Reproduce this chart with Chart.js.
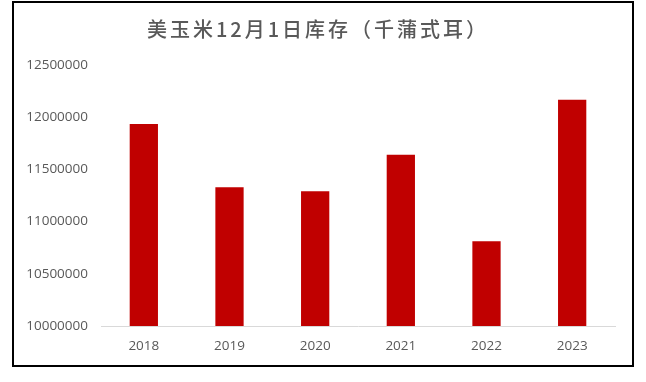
<!DOCTYPE html>
<html>
<head>
<meta charset="utf-8">
<script src="https://cdn.jsdelivr.net/npm/chart.js@4/dist/chart.umd.min.js"></script>
<style>
  html, body { margin: 0; padding: 0; background: #fff; }
  #wrap { position: relative; width: 646px; height: 382px; overflow: hidden; }
  #c { position: absolute; left: 0; top: 0; }
  #frame { position: absolute; left: 12px; top: 1px; width: 622px; height: 366px; box-sizing: border-box; border: 2px solid #000; pointer-events: none; }
  #title { position: absolute; left: 0; width: 636px; top: 15px; text-align: center; font-family: "Noto Sans CJK SC", sans-serif; font-size: 20px; font-weight: 500; line-height: 28px; letter-spacing: 3px; color: #595959; }
</style>
</head>
<body>
<div id="wrap">
  <canvas id="c" width="646" height="382"></canvas>
  <div id="frame"></div>
  <div id="title">美玉米12月1日库存（千蒲式耳）</div>
</div>
<script>
const categories = ["2018", "2019", "2020", "2021", "2022", "2023"];
const stocks = [11936000, 11328000, 11290000, 11641000, 10811000, 12168000];
const yTickLabels = ["10000000", "10500000", "11000000", "11500000", "12000000", "12500000"];

const tickFont = { family: "'Open Sans', 'Liberation Sans', sans-serif", size: 13.5 };
const yMin = Number(yTickLabels[0]);
const yMax = Number(yTickLabels[yTickLabels.length - 1]);
const yStep = Number(yTickLabels[1]) - Number(yTickLabels[0]);

new Chart(document.getElementById("c"), {
  type: "bar",
  data: {
    labels: categories,
    datasets: [{
      data: stocks,
      backgroundColor: "#C00000",
      borderWidth: 0,
      barPercentage: 0.33,
      categoryPercentage: 1.0
    }]
  },
  options: {
    responsive: false,
    animation: false,
    devicePixelRatio: 1,
    layout: { padding: { left: 0, right: 31, top: 65, bottom: 26 } },
    plugins: { legend: { display: false }, title: { display: false }, tooltip: { enabled: false } },
    scales: {
      x: {
        grid: { display: false, drawTicks: false },
        border: { display: true, color: "#D9D9D9", width: 1 },
        ticks: { color: "#595959", font: tickFont, padding: 12 },
        afterFit: (s) => { s.height = 30; }
      },
      y: {
        min: yMin,
        max: yMax,
        grid: { display: false, drawTicks: false },
        border: { display: false },
        ticks: {
          stepSize: yStep,
          color: "#595959",
          font: tickFont,
          padding: 13,
          callback: (v) => yTickLabels.find(t => Number(t) === v) ?? String(v)
        },
        afterFit: (s) => { s.width = 101; }
      }
    }
  }
});
</script>
</body>
</html>
